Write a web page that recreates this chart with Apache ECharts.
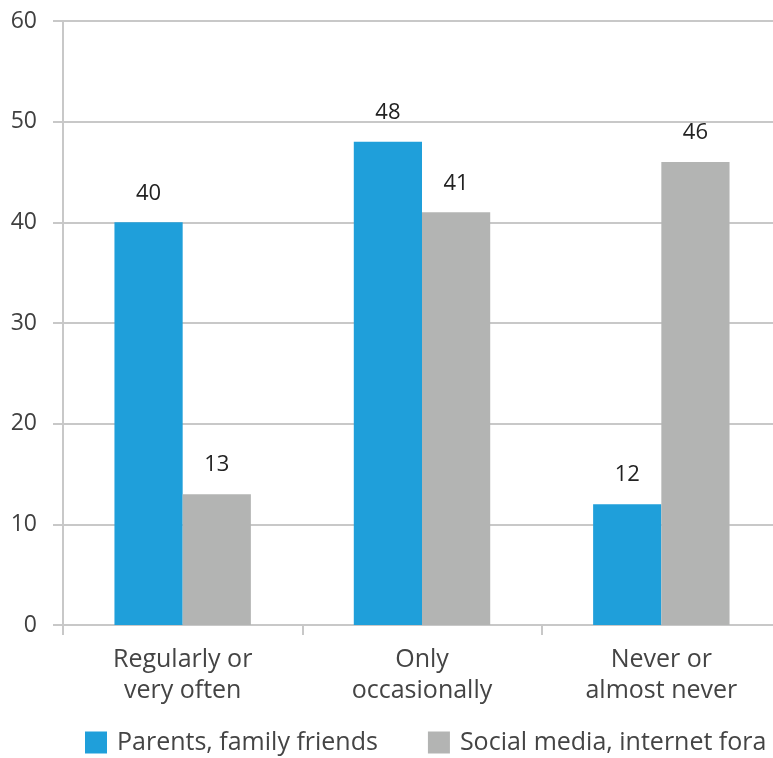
<!DOCTYPE html>
<html><head><meta charset="utf-8">
<script src="https://cdn.jsdelivr.net/npm/echarts@6/dist/echarts.min.js"></script>
<style>html,body{margin:0;padding:0;background:#fff;overflow:hidden}#c{width:781px;height:758px}</style>
</head><body><div id="c"></div>
<script>
const categories = ['Regularly or\nvery often', 'Only\noccasionally', 'Never or\nalmost never'];
const parents = [40, 48, 12];
const social = [13, 41, 46];
const seriesNames = ['Parents, family friends', 'Social media, internet fora'];
const yTicks = [0, 10, 20, 30, 40, 50, 60];

const font = 'Open Sans';
const chart = echarts.init(document.getElementById('c'));
const labelCfg = { show: true, position: 'top', distance: 18, color: '#222', fontSize: 22, fontFamily: font };
chart.setOption({
  animation: false,
  grid: { left: 63, top: 21, right: 0, bottom: 133, containLabel: false },
  legend: {
    left: 85, top: 730, padding: 0, itemWidth: 22, itemHeight: 22, itemGap: 50, icon: 'rect',
    textStyle: { fontSize: 25, color: '#444', fontFamily: font, padding: [0, 0, 0, 5] },
    data: seriesNames
  },
  xAxis: {
    type: 'category', data: categories,
    axisLine: { lineStyle: { color: '#c8c8c8', width: 2 } },
    axisTick: { show: true, length: 10, lineStyle: { color: '#c8c8c8', width: 2 } },
    axisLabel: { fontSize: 25, color: '#444', fontFamily: font, lineHeight: 31, margin: 19 }
  },
  yAxis: {
    type: 'value', min: yTicks[0], max: yTicks[yTicks.length - 1], interval: 10,
    axisLine: { show: true, lineStyle: { color: '#c8c8c8', width: 2 } },
    axisTick: { show: true, length: 10, lineStyle: { color: '#c8c8c8', width: 2 } },
    splitLine: { lineStyle: { color: '#c8c8c8', width: 2 } },
    axisLabel: { fontSize: 23, color: '#404040', fontFamily: font, margin: 26 }
  },
  series: [
    { name: seriesNames[0], type: 'bar', data: parents, barGap: '0%', barCategoryGap: '43%',
      itemStyle: { color: '#1f9fda' }, label: labelCfg },
    { name: seriesNames[1], type: 'bar', data: social, barGap: '0%', barCategoryGap: '43%',
      itemStyle: { color: '#b3b4b3' }, label: labelCfg }
  ]
});
</script></body></html>
